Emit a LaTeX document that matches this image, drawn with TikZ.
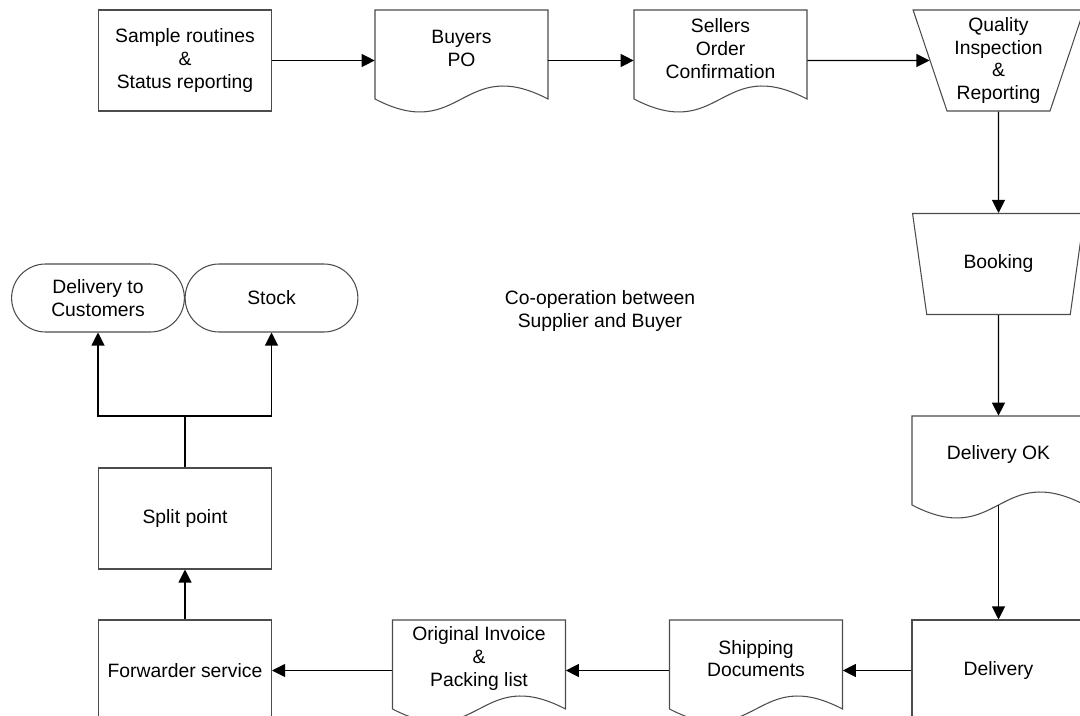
\documentclass[tikz,border=0pt]{standalone}
\usepackage{fontspec}
\setmainfont{Liberation Sans}
\usetikzlibrary{shapes.geometric,shapes.misc,arrows.meta}

\tikzset{
  box/.style={draw=black!70, line width=0.6pt, minimum width=3.46cm, minimum height=2.02cm, align=center},
  docarea/.style={minimum width=3.46cm, minimum height=2.02cm, inner sep=0pt},
  doctext/.style={align=center},
  manual/.style={trapezium, shape border rotate=180, trapezium angle=71.4, trapezium stretches=true,
    draw=black!70, line width=0.6pt, minimum width=3.44cm, minimum height=2.02cm, inner sep=1pt, align=center},
  term/.style={rounded rectangle, draw=black!70, line width=0.6pt, minimum width=3.69cm, minimum height=1.36cm, align=center},
  flow/.style={line width=0.6pt, -{Triangle[length=7.4pt,width=7.4pt]}},
}

% document shape: name, x, y, text
\newcommand{\docbox}[4]{%
  \draw[draw=black!70, line width=0.6pt] (#2-86.5,#3-50.5) -- (#2+86.5,#3-50.5) -- (#2+86.5,#3+38.5)
    .. controls (#2,#3-6.5) and (#2,#3+83.5) .. (#2-86.5,#3+38.5) -- cycle;
  \node[docarea] (#1) at (#2,#3) {};
  \coordinate (#1-w) at (#2,#3+38.5);
  \node[doctext] (#1-txt) at (#2,#3-12) {#4};
}

\begin{document}
\begin{tikzpicture}[x=0.02cm, y=-0.02cm, font=\fontsize{11}{12.9}\selectfont]
\useasboundingbox (0,0) rectangle (1080,716);

% Top row
\node[box] (sample) at (185,60.5) {Sample routines\\\&\\Status reporting};
\docbox{buyers}{461.5}{60.5}{Buyers\\PO}
\docbox{sellers}{720.5}{60.5}{Sellers\\Order\\Confirmation}
\node[manual] (quality) at (998.5,60.5) {Quality\\Inspection\\\&\\Reporting};

% Right column
\node[manual] (booking) at (998.5,264) {Booking};
\docbox{delok}{998.5}{466.5}{Delivery OK}

% Bottom row
\node[box] (delivery) at (998.5,670.5) {Delivery};
\docbox{shipping}{756}{670.5}{Shipping\\Documents}
\docbox{invoice}{479}{670.5}{Original Invoice\\\&\\Packing list}
\node[box] (forwarder) at (185,670.5) {Forwarder service};

% Left column
\node[box] (split) at (185,518.5) {Split point};
\node[term] (delcust) at (98,298) {Delivery to\\Customers};
\node[term] (stock) at (271.5,298) {Stock};
\coordinate (fork) at (185,416);

% Middle text
\node[align=center] (coop) at (600,311) {Co-operation between\\Supplier and Buyer};

% Connectors
\draw[flow] (sample) -- (buyers);
\draw[flow] (buyers) -- (sellers);
\draw[flow] (sellers) -- (quality);
\draw[flow] (quality) -- (booking);
\draw[flow] (booking) -- (delok);
\draw[flow] (delok-w) -- (delivery);
\draw[flow] (delivery) -- (shipping);
\draw[flow] (shipping) -- (invoice);
\draw[flow] (invoice) -- (forwarder);
\draw[flow] (forwarder) -- (split);
\draw[line width=0.6pt] (split) -- (fork);
\draw[flow] (fork) -| (delcust);
\draw[flow] (fork) -| (stock);
\end{tikzpicture}
\end{document}
